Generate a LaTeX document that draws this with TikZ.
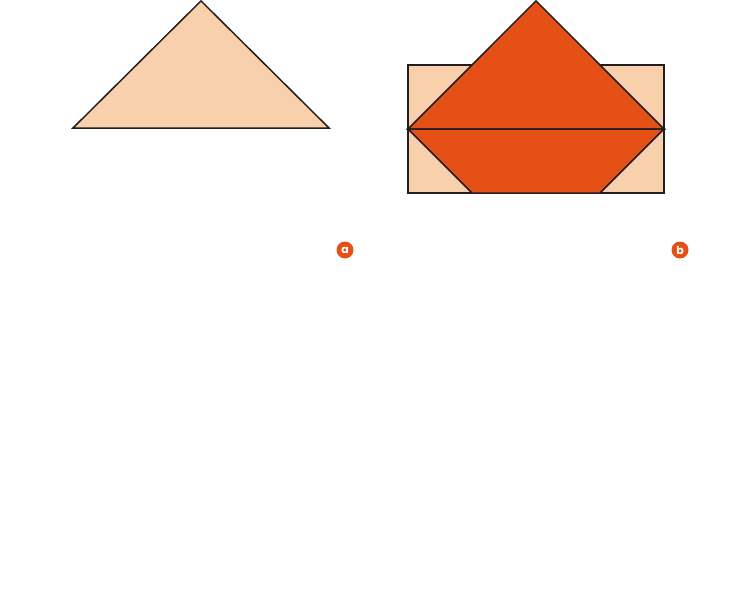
\documentclass[tikz,border=0pt]{standalone}
\usepackage{fontspec}
\newfontfamily\labfont{Poppins}
\definecolor{peach}{HTML}{F8D0AB}
\definecolor{orng}{HTML}{E55017}
\definecolor{ink}{HTML}{231F20}
\begin{document}
\begin{tikzpicture}[x=1pt,y=-1pt,
  outline/.style={draw=ink,line width=1.5pt,line join=miter},
  tag/.style={circle,fill=orng,inner sep=0pt,minimum size=17pt,text=white,font=\labfont\bfseries\fontsize{11}{11}\selectfont}]
\useasboundingbox (0,0) rectangle (737,594);
% figure a
\coordinate (A1) at (73,128);
\coordinate (A2) at (201,0.9);
\coordinate (A3) at (329,128);
\filldraw[outline,fill=peach] (A1) -- (A2) -- (A3) -- cycle;
% figure b
\coordinate (R1) at (408,65);
\coordinate (R2) at (664,193);
\filldraw[outline,fill=peach] (R1) rectangle (R2);
\coordinate (L) at (408,129);
\coordinate (T) at (536,0.9);
\coordinate (Rt) at (664,129);
\coordinate (B1) at (472,193);
\coordinate (B2) at (600,193);
\filldraw[outline,fill=orng] (L) -- (T) -- (Rt) -- cycle;
\filldraw[outline,fill=orng] (L) -- (B1) -- (B2) -- (Rt) -- cycle;
% labels
\node[tag] (la) at (345,250) {a};
\node[tag] (lb) at (680,250) {b};
\end{tikzpicture}
\end{document}
